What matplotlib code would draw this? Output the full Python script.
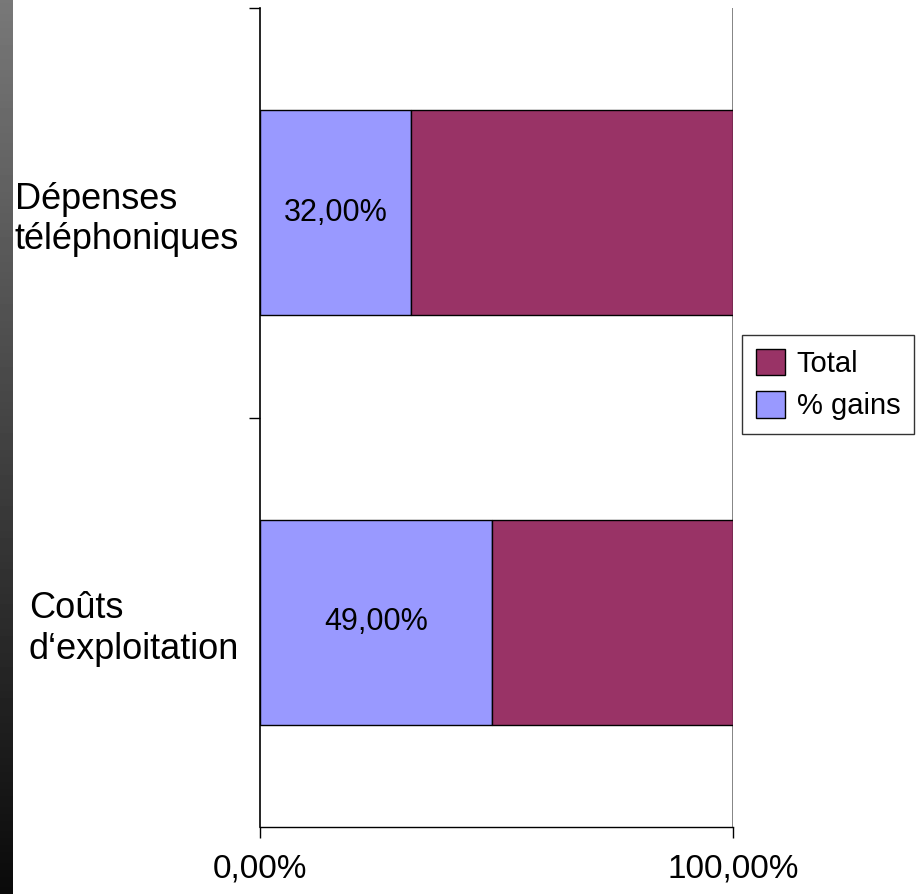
import numpy as np
import matplotlib.pyplot as plt

# ============================================================
# DATA
# ============================================================

categories = ["Coûts\nd\u2018exploitation", "Dépenses\ntéléphoniques"]
gains = [49.0, 32.0]
totals = [51.0, 68.0]   # remainder up to 100 %
tick_values = [0, 100]
tick_labels = ["0,00%", "100,00%"]

plt.rcParams["font.family"] = ["Liberation Sans", "DejaVu Sans"]

# ============================================================
# FIGURE
# ============================================================

fig = plt.figure(figsize=(9.23, 8.94), dpi=100)

# grey-to-black strip on the left edge
strip = fig.add_axes([0, 0, 13 / 923, 1])
grad = np.linspace(0.47, 0.04, 256).reshape(-1, 1)
strip.imshow(grad, cmap="gray", vmin=0, vmax=1, aspect="auto")
strip.axis("off")

ax = fig.add_axes([260 / 923, 1 - 827 / 894, 473 / 923, 819 / 894])

y = np.arange(len(categories))
b1 = ax.barh(y, gains, height=0.5, color="#9999FF", edgecolor="black",
             linewidth=1, label="% gains")
b2 = ax.barh(y, totals, left=gains, height=0.5, color="#993366",
             edgecolor="black", linewidth=1, label="Total")

for bar, v in zip(b1, gains):
    ax.text(bar.get_x() + bar.get_width() / 2, bar.get_y() + bar.get_height() / 2,
            f"{v:.2f}%".replace(".", ","), ha="center", va="center", fontsize=22)

ax.set_xlim(0, 100)
ax.set_ylim(-0.5, 1.5)
ax.axvline(100, color="#707070", lw=1.2, zorder=0)

ax.set_xticks(tick_values)
ax.set_xticklabels(tick_labels, fontsize=24)
ax.tick_params(axis="x", length=8, width=1, pad=11)

ax.set_yticks(y)
ax.set_yticklabels(categories, fontsize=26, ha="right", multialignment="left")
ax.tick_params(axis="y", length=0, pad=15)
ax.set_yticks([0.5, 1.5], minor=True)
ax.tick_params(axis="y", which="minor", length=8, width=1)

for s in ["top", "right"]:
    ax.spines[s].set_visible(False)
ax.spines["left"].set_linewidth(1.2)
ax.spines["bottom"].set_linewidth(1)

handles = [b2, b1]
ax.legend(handles, ["Total", "% gains"], loc="upper left",
          bbox_to_anchor=(742 / 923, 1 - 335 / 894), bbox_transform=fig.transFigure,
          fontsize=21, frameon=True, fancybox=False, edgecolor="black",
          borderaxespad=0, handlelength=1.0, handleheight=1.0, handletextpad=0.4,
          borderpad=0.47, labelspacing=0.47).get_frame().set_linewidth(1)

fig.savefig("out.png", dpi=100)
